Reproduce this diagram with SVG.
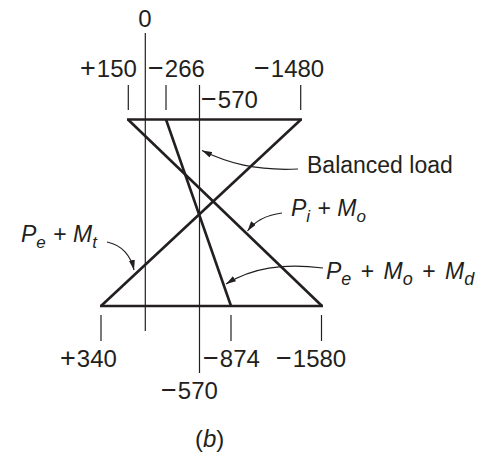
<svg xmlns="http://www.w3.org/2000/svg" width="484" height="461" viewBox="0 0 484 461">
<style>
text{font-family:"Liberation Sans",Arial,sans-serif;font-size:23px;fill:#231f20}
.num{font-size:24px}
.sg{font-size:27px}
.it{font-style:italic}
.sub{font-size:17px;font-style:italic}
.thin{stroke:#231f20;stroke-width:1.2;fill:none}
.thick{stroke:#231f20;stroke-width:2.6;fill:none}
.lead{stroke:#231f20;stroke-width:1.2;fill:none;marker-end:url(#ah)}
</style>
<defs>
<marker id="ah" viewBox="0 0 10 6" refX="10" refY="3" markerWidth="10" markerHeight="6" markerUnits="userSpaceOnUse" orient="auto">
<path d="M0,0 L10,3 L0,6 Z" fill="#231f20"/>
</marker>
</defs>
<rect width="484" height="461" fill="#fff"/>
<g id="axes">
<line class="thin" x1="145.3" y1="33" x2="145.3" y2="331"/>
<line class="thin" x1="199.5" y1="85" x2="199.5" y2="373"/>
<line class="thin" x1="128.3" y1="85" x2="128.3" y2="110"/>
<line class="thin" x1="166" y1="85" x2="166" y2="110"/>
<line class="thin" x1="300.7" y1="85" x2="300.7" y2="110"/>
<line class="thin" x1="101" y1="315" x2="101" y2="341"/>
<line class="thin" x1="231" y1="315" x2="231" y2="341"/>
<line class="thin" x1="321.5" y1="315" x2="321.5" y2="341"/>
</g>
<g id="diagram">
<line class="thick" x1="127" y1="119.5" x2="302" y2="119.5"/>
<line class="thick" x1="100" y1="306" x2="323" y2="306"/>
<line class="thick" x1="128" y1="119.5" x2="322" y2="306"/>
<line class="thick" x1="301" y1="119.5" x2="101" y2="306"/>
<line class="thick" x1="166" y1="119.5" x2="231" y2="306"/>
</g>
<g id="connectors">
<path class="lead" d="M298,169 C255,171 228,163 202,150.5"/>
<path class="lead" d="M282,213 C266,215 255,221 247.5,231"/>
<path class="lead" d="M107,242 C122,245 131,256 134,270"/>
<path class="lead" d="M323,268 C282,263 252,268 226,284"/>
</g>
<g id="labels">
<text class="num" x="145" y="27" text-anchor="middle">0</text>
<text class="num" x="80" y="77"><tspan class="sg">+</tspan><tspan dx="1">150</tspan></text>
<text class="num" x="148" y="77"><tspan class="sg">−</tspan><tspan dx="1">266</tspan></text>
<text class="num" x="254" y="77"><tspan class="sg">−</tspan><tspan dx="1">1480</tspan></text>
<text class="num" x="201" y="108"><tspan class="sg">−</tspan><tspan dx="1">570</tspan></text>
<text class="num" x="60" y="366.5"><tspan class="sg">+</tspan><tspan dx="1">340</tspan></text>
<text class="num" x="203" y="366.5"><tspan class="sg">−</tspan><tspan dx="1">874</tspan></text>
<text class="num" x="276" y="366.5"><tspan class="sg">−</tspan><tspan dx="1">1580</tspan></text>
<text class="num" x="161" y="399"><tspan class="sg">−</tspan><tspan dx="1">570</tspan></text>
<text class="num" x="195" y="447">(<tspan class="it">b</tspan>)</text>
</g>
<g id="label-balanced">
<text x="307" y="172.5">Balanced load</text>
</g>
<g id="label-pi-mo">
<text x="291" y="216"><tspan class="it">P</tspan><tspan class="sub" dy="6">i</tspan><tspan dy="-6" dx="1"> + </tspan><tspan class="it">M</tspan><tspan class="sub" dy="6">o</tspan></text>
</g>
<g id="label-pe-mt">
<text x="21" y="241.5"><tspan class="it">P</tspan><tspan class="sub" dy="6">e</tspan><tspan dy="-6" dx="1"> + </tspan><tspan class="it">M</tspan><tspan class="sub" dy="6">t</tspan></text>
</g>
<g id="label-pe-mo-md">
<text x="326" y="279"><tspan class="it">P</tspan><tspan class="sub" dy="6" style="font-size:18px">e</tspan><tspan dy="-6" dx="3"> + </tspan><tspan class="it" dx="3">M</tspan><tspan class="sub" dy="6" style="font-size:18px">o</tspan><tspan dy="-6" dx="3"> + </tspan><tspan class="it" dx="3">M</tspan><tspan class="sub" dy="6" style="font-size:18px">d</tspan></text>
</g>
</svg>
